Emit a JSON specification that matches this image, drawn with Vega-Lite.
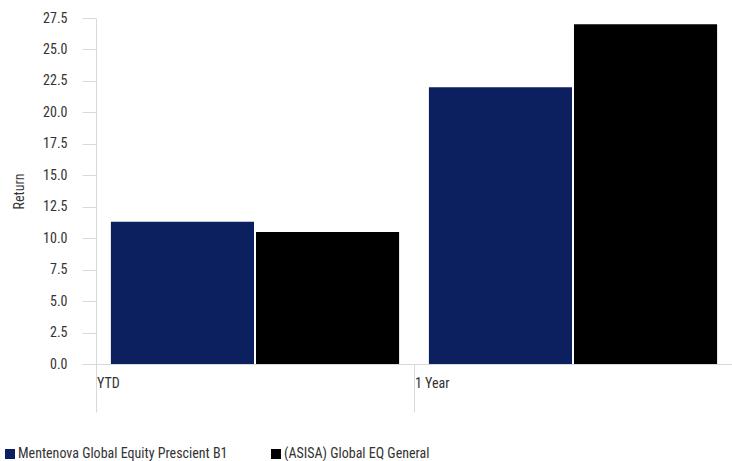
{
  "$schema": "https://vega.github.io/schema/vega-lite/v6.json",
  "width": 636,
  "height": 346,
  "autosize": {"type": "none"},
  "padding": {"left": 96, "top": 18, "right": 0, "bottom": 97},
  "background": "white",
  "config": {
    "font": "Roboto Condensed, Arial Narrow, Roboto",
    "view": {"stroke": null}
  },
  "data": {
    "values": [
      {"period": "YTD", "series": "Mentenova Global Equity Prescient B1", "value": 11.3},
      {"period": "YTD", "series": "(ASISA) Global EQ General", "value": 10.5},
      {"period": "1 Year", "series": "Mentenova Global Equity Prescient B1", "value": 22.0},
      {"period": "1 Year", "series": "(ASISA) Global EQ General", "value": 27.0}
    ]
  },
  "mark": {"type": "bar"},
  "encoding": {
    "x": {
      "field": "period",
      "type": "nominal",
      "sort": ["YTD", "1 Year"],
      "scale": {"paddingInner": 0, "paddingOuter": 0},
      "axis": {
        "title": null,
        "bandPosition": 0,
        "labelAngle": 0,
        "labelAlign": "left",
        "labelBaseline": "top",
        "labelOffset": -158,
        "labelPadding": -36,
        "tickSize": 48,
        "tickColor": "#d9d9d9",
        "domainColor": "#d9d9d9",
        "labelFontSize": 14,
        "labelColor": "#333333"
      }
    },
    "xOffset": {
      "field": "series",
      "type": "nominal",
      "sort": ["Mentenova Global Equity Prescient B1", "(ASISA) Global EQ General"],
      "scale": {"paddingInner": 0.0137, "paddingOuter": 0.1027}
    },
    "y": {
      "field": "value",
      "type": "quantitative",
      "scale": {"domain": [0, 27.5], "nice": false},
      "axis": {
        "title": "Return",
        "titleFontSize": 14,
        "titleFontWeight": "normal",
        "titleColor": "#333333",
        "titlePadding": 16,
        "values": [0, 2.5, 5, 7.5, 10, 12.5, 15, 17.5, 20, 22.5, 25, 27.5],
        "format": ".1f",
        "grid": false,
        "tickSize": 14,
        "tickColor": "#d9d9d9",
        "domainColor": "#d9d9d9",
        "labelPadding": 15,
        "labelFontSize": 14,
        "labelColor": "#333333"
      }
    },
    "color": {
      "field": "series",
      "type": "nominal",
      "sort": ["Mentenova Global Equity Prescient B1", "(ASISA) Global EQ General"],
      "scale": {
        "domain": ["Mentenova Global Equity Prescient B1", "(ASISA) Global EQ General"],
        "range": ["#0c1f5e", "#000000"]
      },
      "legend": {
        "title": null,
        "orient": "none",
        "legendX": -93,
        "legendY": 429,
        "direction": "horizontal",
        "columns": 2,
        "columnPadding": 41,
        "symbolType": "square",
        "symbolSize": 100,
        "symbolStrokeWidth": 0,
        "symbolOffset": 0,
        "labelOffset": 1,
        "labelFontSize": 14,
        "labelColor": "#333333",
        "labelLimit": 400
      }
    }
  }
}
